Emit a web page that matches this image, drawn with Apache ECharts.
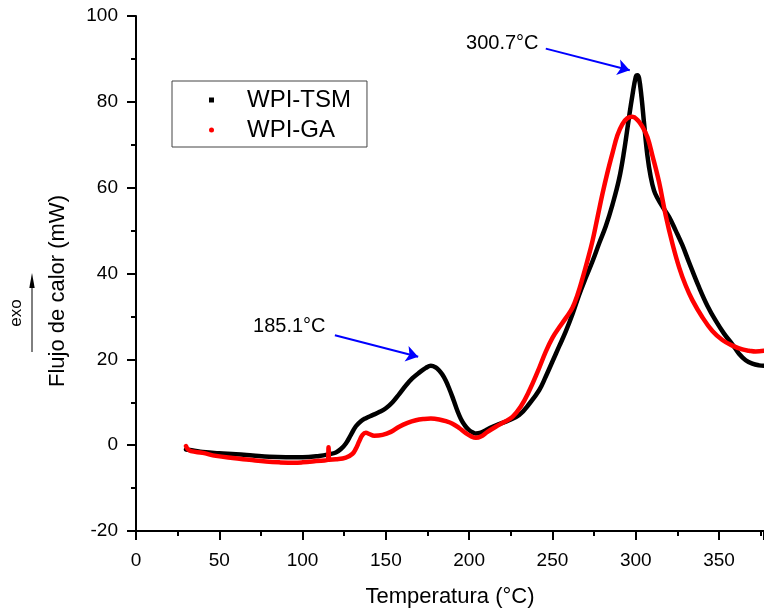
<!DOCTYPE html>
<html>
<head>
<meta charset="utf-8">
<script src="https://cdn.jsdelivr.net/npm/echarts@6/dist/echarts.min.js"></script>
<style>
html,body{margin:0;padding:0;background:#fff;}
#chart{width:764px;height:613px;}
</style>
</head>
<body>
<div id="chart"></div>
<script>
var seriesNames = ['WPI-TSM', 'WPI-GA'];
var xTitle = 'Temperatura (°C)';
var yTitle = 'Flujo de calor (mW)';
var peakLabels = ['300.7°C', '185.1°C'];

var wpiTSM = [
  [30,-1.0],[35,-1.3],[40,-1.6],[50,-1.9],[60,-2.1],[70,-2.4],[80,-2.7],[90,-2.8],[100,-2.8],
  [110,-2.5],[116,-2.1],[120,-1.7],[123,-0.9],[126,0.4],[129,2.4],[132,4.4],[135,5.6],[138,6.3],
  [142,7.0],[146,7.7],[150,8.6],[154,10.0],[158,11.9],[162,13.9],[166,15.6],[170,16.9],
  [174,18.0],[177,18.5],[180,18.1],[182,17.4],[184,16.4],[186,15.0],[188,13.2],[190,11.2],
  [192,9.0],[194,7.0],[196,5.4],[198,4.3],[200,3.5],[202,3.0],[204,2.7],[207,2.9],[210,3.5],
  [213,4.1],[218,4.9],[224,5.8],[230,7.0],[236,9.6],
  [242,12.8],[246,16.0],[250,19.5],[254,23.0],[258,26.5],[262,30.5],[266,35.0],[270,39.0],
  [274,42.8],[278,47.0],[282,51.0],[286,56.0],[290,62.0],[293,68.5],[296,76.5],[298,81.5],
  [300,85.8],[301,86.2],[302,85.5],[303.5,81.0],[305,75.0],[307,67.5],[309,62.5],[311,59.3],
  [313,57.6],[316,55.6],[320,53.2],[324,50.0],[328,46.6],[332,42.6],[338,36.8],[343,32.5],
  [348,29.0],[353,26.0],[358,23.5],[362,21.3],[366,19.8],[370,19.0],[374,18.6],[377,18.5]
];

var wpiGA = [
  [30,-0.2],[31,-0.9],[33,-1.4],[40,-1.8],[48,-2.5],[58,-3.0],[68,-3.4],[78,-3.8],[86,-4.0],
  [95,-4.1],[100,-4.0],[108,-3.7],[115.2,-3.4],[115.6,-0.5],[116.0,-3.4],[120,-3.3],[126,-2.9],
  [130,-2.0],[132,-0.8],[134,0.9],[136,2.4],[138,2.9],[140,2.6],[143,2.2],[148,2.4],[153,3.1],
  [158,4.3],[163,5.2],[168,5.8],[173,6.1],[177,6.2],[182,6.0],[186,5.6],[190,5.0],[194,4.0],
  [198,2.8],[201,2.1],[204,1.7],[207,2.0],[211,3.1],[216,4.3],[221,5.4],[226,6.6],[231,9.0],
  [236,12.6],[241,17.0],[246,21.8],[250,25.0],[254,27.4],[258,29.6],[262,32.0],[265,35.0],
  [268,38.8],[271,43.0],[274,47.5],[277,53.0],[280,58.5],[283,63.5],[286,68.0],[289,72.2],
  [292,74.8],[295,76.2],[298,76.5],[301,75.8],[304,74.2],[307,71.8],[310,67.5],[314,61.3],
  [318,53.5],[322,47.0],[326,41.5],[330,37.2],[334,33.8],[340,29.8],[346,26.6],[352,24.5],
  [358,23.2],[364,22.3],[368,22.0],[372,21.8],[377,22.0]
];

// annotation anchors in data coordinates [x, y]
var arrowStarts = [[246,92.4],[119.4,25.6]];
var arrowEnds = [[296.4,87.35],[169.4,20.6]];
var labelPos = [[219.9,93.5],[92.0,27.6]];

var FONT = 'Liberation Sans, Arial, Helvetica, sans-serif';
var chart = echarts.init(document.getElementById('chart'), null, {renderer:'canvas'});

var option = {
  backgroundColor:'#fff',
  animation:false,
  grid:{left:136, right:0, top:16, bottom:78, containLabel:false},
  legend:{
    orient:'vertical', left:172, top:81,
    padding:[6,16,4,37], itemGap:4,
    itemWidth:5, itemHeight:5,
    borderColor:'#444', borderWidth:1,
    data:[{name:seriesNames[0], icon:'rect'},{name:seriesNames[1], icon:'circle'}],
    textStyle:{fontFamily:FONT, fontSize:24, color:'#000', lineHeight:26, padding:[0,0,0,28]}
  },
  xAxis:{
    type:'value', min:0, max:377, interval:50,
    name:xTitle, nameLocation:'middle', nameGap:55,
    nameTextStyle:{fontFamily:FONT, fontSize:22, color:'#000'},
    axisLine:{show:true, onZero:false, lineStyle:{color:'#000', width:2}},
    axisTick:{show:true, inside:false, length:9, lineStyle:{color:'#000', width:2}},
    minorTick:{show:true, splitNumber:2, length:5, lineStyle:{color:'#000', width:2}},
    axisLabel:{fontFamily:FONT, fontSize:19, color:'#000', margin:20, showMaxLabel:false},
    splitLine:{show:false}
  },
  yAxis:{
    type:'value', min:-20, max:100, interval:20,
    axisLine:{show:true, onZero:false, lineStyle:{color:'#000', width:2}},
    axisTick:{show:true, inside:false, length:9, lineStyle:{color:'#000', width:2}},
    minorTick:{show:true, splitNumber:2, length:5, lineStyle:{color:'#000', width:2}},
    axisLabel:{fontFamily:FONT, fontSize:19, color:'#000', margin:18},
    splitLine:{show:false}
  },
  series:[
    {
      name:seriesNames[0], type:'line', data:wpiTSM, showSymbol:false, smooth:0.4,
      color:'#000',
      itemStyle:{color:'#000'}, lineStyle:{color:'#000', width:4.5, join:'round', cap:'round'}, z:2,
      markLine:{
        silent:true, symbol:['none','arrow'], symbolSize:12,
        lineStyle:{color:'#0000ff', width:2, type:'solid'},
        label:{show:false},
        data:[
          [{coord:arrowStarts[0]},{coord:arrowEnds[0]}],
          [{coord:arrowStarts[1]},{coord:arrowEnds[1]}]
        ]
      },
      markPoint:{
        silent:true, symbol:'circle', symbolSize:0,
        label:{show:true, position:'inside', fontFamily:FONT, fontSize:20, color:'#000',
          formatter:function(p){return p.name;}},
        data:[
          {name:peakLabels[0], coord:labelPos[0]},
          {name:peakLabels[1], coord:labelPos[1]}
        ]
      }
    },
    {
      name:seriesNames[1], type:'line', data:wpiGA, showSymbol:false, smooth:0.4,
      color:'#ff0000',
      itemStyle:{color:'#ff0000'}, lineStyle:{color:'#ff0000', width:4.5, join:'round', cap:'round'}, z:3
    }
  ],
  graphic:[
    {type:'text', x:58, y:291, rotation:Math.PI/2,
      style:{text:yTitle, fontFamily:FONT, fontSize:22, fill:'#000', align:'center', verticalAlign:'middle'}},
    {type:'text', x:16, y:313, rotation:Math.PI/2,
      style:{text:'exo', fontFamily:FONT, fontSize:17, fill:'#000', align:'center', verticalAlign:'middle'}},
    {type:'line', shape:{x1:32, y1:352, x2:32, y2:286}, style:{stroke:'#000', lineWidth:1}},
    {type:'polygon', shape:{points:[[32,273],[29.3,288],[34.7,288]]}, style:{fill:'#000'}}
  ]
};
chart.setOption(option);
</script>
</body>
</html>
